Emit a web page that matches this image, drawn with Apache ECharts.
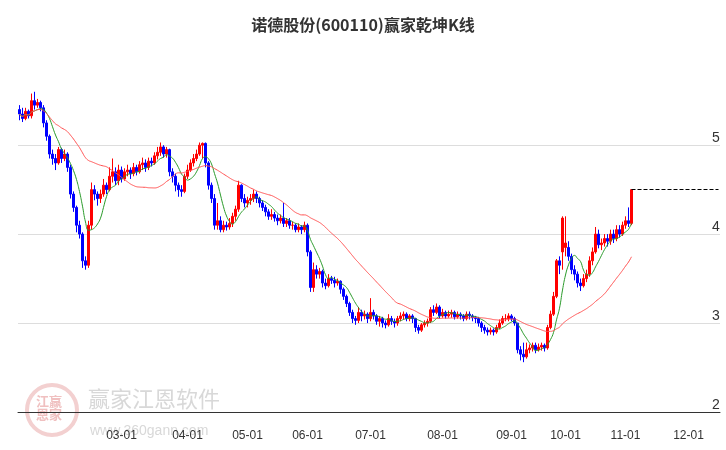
<!DOCTYPE html>
<html><head><meta charset="utf-8">
<script src="https://cdn.jsdelivr.net/npm/echarts@6/dist/echarts.min.js"></script>
<style>html,body{margin:0;padding:0;background:#fff}#c{width:726px;height:450px}</style>
</head><body><div id="c"></div>
<script>
const title = '诺德股份(600110)赢家乾坤K线';
const monthLabels = ['', '03-01', '04-01', '05-01', '06-01', '07-01', '08-01', '09-01', '10-01', '11-01', '12-01'];
const monthTradingDays = [34, 22, 20, 20, 21, 24, 23, 18, 20, 21, 11];
const yTicks = [2, 3, 4, 5];
// [open, close, low, high]
const ohlc = [
[5.40,5.35,5.28,5.45],[5.35,5.30,5.26,5.42],[5.30,5.38,5.28,5.42],[5.38,5.33,5.30,5.40],
[5.33,5.50,5.30,5.58],[5.50,5.45,5.40,5.60],[5.45,5.48,5.42,5.52],[5.48,5.42,5.38,5.50],
[5.42,5.25,5.20,5.45],[5.25,5.10,5.05,5.28],[5.10,4.90,4.85,5.12],[4.90,4.85,4.78,4.95],
[4.85,4.80,4.72,4.90],[4.80,4.95,4.78,4.98],[4.95,4.85,4.80,4.97],[4.85,4.90,4.82,4.95],
[4.90,4.75,4.70,4.92],[4.75,4.45,4.40,4.78],[4.45,4.30,4.25,4.48],[4.30,4.10,4.02,4.32],
[4.10,4.00,3.95,4.15],[4.00,3.70,3.62,4.02],[3.70,3.65,3.60,3.75],[3.65,4.10,3.62,4.15],
[4.10,4.50,4.05,4.58],[4.50,4.45,4.38,4.55],[4.45,4.40,4.32,4.48],[4.40,4.45,4.35,4.50],
[4.45,4.55,4.42,4.62],[4.55,4.50,4.45,4.58],[4.50,4.65,4.48,4.75],[4.65,4.70,4.58,4.85],
[4.70,4.60,4.55,4.75],[4.60,4.72,4.55,4.78],[4.72,4.62,4.58,4.76],[4.62,4.70,4.60,4.74],
[4.70,4.72,4.65,4.78],[4.72,4.68,4.62,4.75],[4.68,4.75,4.65,4.80],[4.75,4.70,4.66,4.78],
[4.70,4.78,4.68,4.82],[4.78,4.80,4.72,4.86],[4.80,4.75,4.70,4.84],[4.75,4.82,4.72,4.86],
[4.82,4.80,4.76,4.86],[4.80,4.88,4.78,4.92],[4.88,4.92,4.84,4.98],[4.92,4.98,4.88,5.03],
[4.98,4.90,4.86,5.00],[4.90,4.95,4.86,4.98],[4.95,4.70,4.65,4.96],[4.70,4.65,4.58,4.74],
[4.65,4.55,4.48,4.68],[4.55,4.50,4.42,4.58],[4.50,4.48,4.42,4.55],[4.48,4.65,4.46,4.68],
[4.65,4.72,4.62,4.78],[4.72,4.80,4.70,4.84],[4.80,4.85,4.76,4.90],[4.85,4.90,4.82,4.95],
[4.90,5.00,4.88,5.03],[5.00,5.02,4.85,5.03],[5.02,4.80,4.75,5.03],[4.80,4.55,4.50,4.82],
[4.55,4.40,4.35,4.58],[4.40,4.10,4.05,4.45],[4.10,4.15,4.05,4.35],[4.15,4.05,4.02,4.20],
[4.05,4.10,4.02,4.15],[4.10,4.08,4.04,4.14],[4.08,4.12,4.05,4.18],[4.12,4.20,4.08,4.24],
[4.20,4.28,4.15,4.32],[4.28,4.55,4.25,4.60],[4.55,4.40,4.36,4.56],[4.40,4.35,4.30,4.45],
[4.35,4.38,4.30,4.42],[4.38,4.40,4.33,4.45],[4.40,4.45,4.36,4.50],[4.45,4.40,4.35,4.48],
[4.40,4.35,4.30,4.42],[4.35,4.30,4.26,4.38],[4.30,4.25,4.20,4.33],[4.25,4.20,4.16,4.28],
[4.20,4.22,4.16,4.28],[4.22,4.18,4.14,4.25],[4.18,4.15,4.10,4.22],[4.15,4.18,4.12,4.22],
[4.18,4.12,4.08,4.35],[4.12,4.15,4.08,4.18],[4.15,4.10,4.06,4.18],[4.10,4.10,4.05,4.14],
[4.10,4.05,4.02,4.12],[4.05,4.08,4.02,4.12],[4.08,4.05,4.00,4.10],[4.05,4.10,4.02,4.14],
[4.10,3.80,3.75,4.12],[3.80,3.40,3.35,3.82],[3.40,3.60,3.35,3.68],[3.60,3.55,3.50,3.65],
[3.55,3.58,3.50,3.62],[3.58,3.45,3.40,3.60],[3.45,3.42,3.38,3.50],[3.42,3.50,3.40,3.55],
[3.50,3.48,3.44,3.53],[3.48,3.45,3.40,3.52],[3.45,3.47,3.42,3.50],[3.47,3.38,3.33,3.48],
[3.38,3.30,3.26,3.40],[3.30,3.22,3.18,3.32],[3.22,3.12,3.08,3.24],[3.12,3.05,3.00,3.15],
[3.05,3.03,2.98,3.08],[3.03,3.12,3.00,3.18],[3.12,3.08,3.02,3.15],[3.08,3.10,3.04,3.14],
[3.10,3.05,3.00,3.12],[3.05,3.12,3.02,3.28],[3.12,3.08,3.04,3.15],[3.08,3.02,2.98,3.10],
[3.02,3.05,2.96,3.08],[3.05,3.00,2.95,3.07],[3.00,2.98,2.94,3.03],[2.98,3.05,2.96,3.10],
[3.05,3.02,2.98,3.08],[3.02,3.00,2.95,3.05],[3.00,3.05,2.97,3.08],[3.05,3.08,3.02,3.12],
[3.08,3.10,3.04,3.13],[3.10,3.05,3.02,3.12],[3.05,3.08,3.02,3.10],[3.08,3.05,3.00,3.10],
[3.05,2.95,2.90,3.06],[2.95,2.92,2.88,2.98],[2.92,2.98,2.90,3.00],[2.98,3.00,2.95,3.03],
[3.00,3.02,2.96,3.05],[3.02,3.15,3.00,3.18],[3.15,3.12,3.08,3.20],[3.12,3.18,3.10,3.22],
[3.18,3.08,3.05,3.20],[3.08,3.12,3.06,3.16],[3.12,3.08,3.05,3.14],[3.08,3.10,3.06,3.14],
[3.10,3.12,3.06,3.15],[3.12,3.07,3.04,3.14],[3.07,3.10,3.05,3.13],[3.10,3.08,3.04,3.12],
[3.08,3.05,3.02,3.10],[3.05,3.10,3.03,3.13],[3.10,3.08,3.04,3.13],[3.08,3.06,3.02,3.10],
[3.06,3.05,3.00,3.08],[3.05,3.00,2.96,3.07],[3.00,2.95,2.90,3.02],[2.95,2.92,2.88,2.98],
[2.92,2.90,2.86,2.95],[2.90,2.92,2.87,2.95],[2.92,2.90,2.86,2.94],[2.90,2.95,2.88,2.98],
[2.95,3.00,2.93,3.04],[3.00,3.05,2.98,3.08],[3.05,3.05,3.02,3.10],[3.05,3.08,3.02,3.11],
[3.08,3.05,3.02,3.10],[3.05,3.00,2.97,3.07],[3.00,2.70,2.66,3.00],[2.70,2.65,2.58,2.74],
[2.65,2.62,2.56,2.78],[2.62,2.70,2.60,2.78],[2.70,2.72,2.66,2.76],[2.72,2.75,2.68,2.78],
[2.75,2.70,2.66,2.78],[2.70,2.73,2.68,2.77],[2.73,2.75,2.69,2.78],[2.75,2.72,2.68,2.77],
[2.72,2.95,2.70,2.98],[2.95,3.10,2.93,3.14],[3.10,3.30,3.08,3.35],[3.30,3.70,3.28,3.72],
[3.70,3.65,3.55,3.75],[3.80,4.18,3.60,4.20],[3.85,3.90,3.75,4.20],[3.85,3.75,3.70,3.92],
[3.75,3.60,3.55,3.78],[3.60,3.55,3.48,3.65],[3.55,3.45,3.40,3.58],[3.45,3.42,3.36,3.50],
[3.42,3.50,3.40,3.55],[3.50,3.55,3.46,3.60],[3.55,3.70,3.52,3.75],[3.70,3.80,3.65,3.85],
[3.80,4.00,3.78,4.08],[4.00,3.88,3.84,4.05],[3.88,3.90,3.82,3.95],[3.90,3.95,3.86,4.00],
[3.95,3.92,3.86,4.00],[3.92,4.00,3.88,4.05],[4.00,3.95,3.90,4.05],[3.95,4.05,3.92,4.10],
[4.05,4.00,3.96,4.10],[4.00,4.10,3.98,4.14],[4.10,4.15,4.06,4.20],[4.15,4.12,4.08,4.30],
[4.12,4.50,4.10,4.50]
];
const closes = ohlc.map(d => d[1]);
function ma(n){ return closes.map((c,i)=>{const s=closes.slice(Math.max(0,i-n+1),i+1);return +(s.reduce((a,b)=>a+b,0)/s.length).toFixed(3);}); }
const categories = [];
monthTradingDays.forEach((n,m)=>{ for(let i=0;i<n;i++) categories.push(i===0?monthLabels[m]:''); });
const lastIdx = ohlc.length-1;
const chart = echarts.init(document.getElementById('c'));
chart.setOption({
  animation:false,
  title:{text:title,left:'center',top:12,textStyle:{fontSize:16,fontWeight:'bold',color:'#333',fontFamily:'Noto Sans CJK SC'}},
  grid:{left:18,right:6,top:74,bottom:38},
  xAxis:{type:'category',data:categories,boundaryGap:true,
    axisLine:{lineStyle:{color:'#333'}},
    axisTick:{alignWithLabel:true,interval:(i,v)=>v!=='' ,length:8,lineStyle:{color:'#333'}},
    axisLabel:{interval:(i,v)=>v!=='',color:'#333',fontSize:12,margin:18},
    splitLine:{show:false}},
  yAxis:{type:'value',position:'right',min:2,max:5.8,interval:1,
    axisLine:{show:false},axisTick:{show:false},
    axisLabel:{margin:-8,color:'#333',fontSize:14,showMaxLabel:false,verticalAlign:'bottom',formatter:v=>yTicks.includes(v)?String(v):''},
    splitLine:{showMaxLine:false,lineStyle:{color:'#ddd'}}},
  graphic:[
    {type:'circle',shape:{cx:52,cy:410,r:25},style:{fill:'none',stroke:'#f3d0d0',lineWidth:4},z:0},
    {type:'text',left:36,top:395,style:{text:'江赢\n恩家',fill:'#f0c0c0',font:'bold 13px "Noto Sans CJK SC"'},z:0},
    {type:'text',left:88,top:388,style:{text:'赢家江恩软件',fill:'#d8d8d8',font:'22px "Noto Sans CJK SC"'},z:0},
    {type:'text',left:90,top:424,style:{text:'www.360gann.com',fill:'#d8d8d8',font:'14px sans-serif'},z:0}
  ],
  series:[
    {type:'candlestick',data:ohlc,barWidth:3,
     itemStyle:{color:'#ff0000',color0:'#0000ff',borderColor:'#ff0000',borderColor0:'#0000ff',borderWidth:1},
     markLine:{symbol:'none',silent:true,label:{show:false},
       lineStyle:{color:'#000',type:'dashed',width:1},
       data:[[{coord:[lastIdx,4.5]},{coord:[categories.length-1,4.5]}]]}},
    {type:'line',data:ma(7),smooth:true,symbol:'none',lineStyle:{color:'#2a9a2a',width:1}},
    {type:'line',data:ma(30),smooth:true,symbol:'none',lineStyle:{color:'#ff5050',width:1}}
  ]
});
</script></body></html>
